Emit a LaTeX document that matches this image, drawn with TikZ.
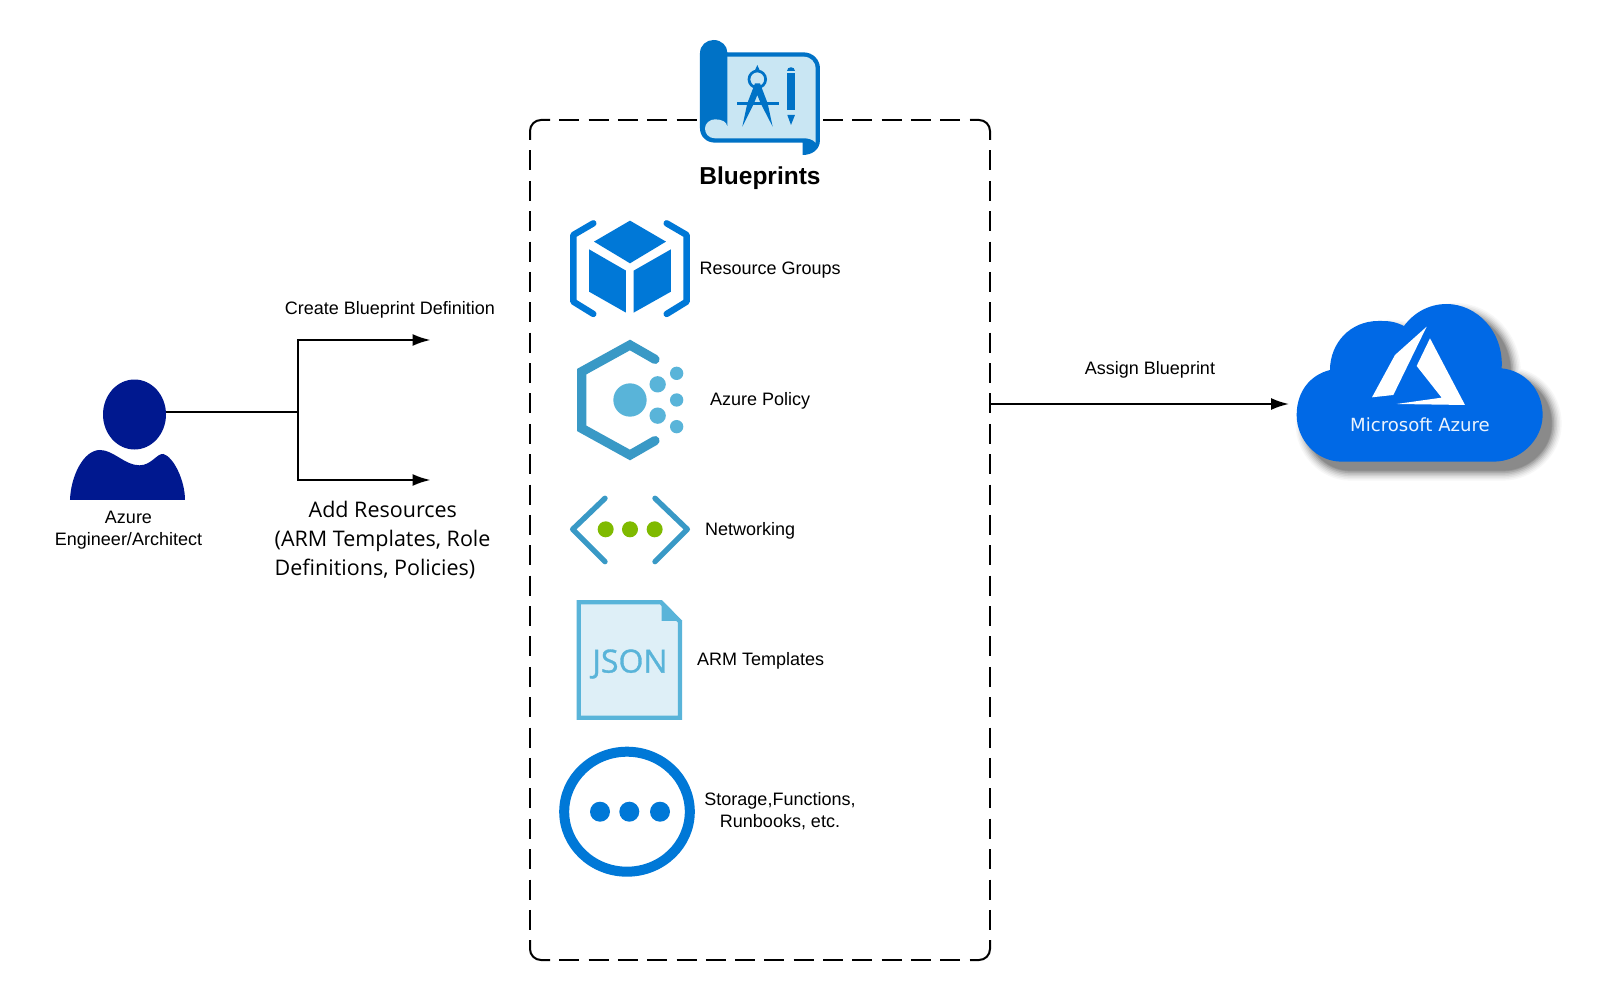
\documentclass[tikz,border=0pt]{standalone}
\usepackage{fontspec}
\setmainfont{Liberation Sans}
\newfontfamily\opensans{Open Sans}
\newfontfamily\jsonfont[FakeBold=1.0]{Open Sans}
\newfontfamily\dejavu{DejaVu Sans}
\usetikzlibrary{arrows.meta,shapes.geometric}
\definecolor{bpblue}{HTML}{0072C6}
\definecolor{bplight}{HTML}{C9E6F3}
\definecolor{azblue}{HTML}{0078D7}
\definecolor{polblue}{HTML}{3999C6}
\definecolor{skyblue}{HTML}{59B4D9}
\definecolor{jsonfill}{HTML}{DEEFF7}
\definecolor{netgreen}{HTML}{7FBA00}
\definecolor{navy}{HTML}{00188F}
\definecolor{cloudblue}{HTML}{0069E6}
\tikzset{
  lbl/.style={inner sep=0pt,font=\fontsize{18}{21.5}\selectfont,text=black},
  conn/.style={line width=2pt,draw=black},
  arr/.style={conn,-{Latex[length=18pt,width=12pt]}},
  zoomed/.style={x=0.3333pt,y=-0.3333pt},
  framecorner/.style={line width=2pt,draw=black,rounded corners=11pt},
  framehoriz/.style={line width=2pt,draw=black,dash pattern=on 20pt off 9.3pt,dash phase=20pt},
  framevert/.style={line width=2pt,draw=black,dash pattern=on 20pt off 10.38pt,dash phase=20pt},
}
\newcommand{\cloudshape}{(150,270) .. controls (90,285) and (50,335) .. (50,405)
  .. controls (50,480) and (110,545) .. (185,545) -- (640,545)
  .. controls (720,545) and (788,480) .. (788,405)
  .. controls (788,330) and (735,272) .. (665,265)
  .. controls (672,155) and (590,72) .. (500,72)
  .. controls (445,72) and (400,100) .. (372,138)
  .. controls (340,122) and (320,123) .. (295,123)
  .. controls (210,123) and (150,190) .. (150,270) -- cycle}
\begin{document}
\begin{tikzpicture}[x=1pt,y=-1pt]
\useasboundingbox (0,0) rectangle (1612,1000);
\fill[white] (0,0) rectangle (1612,1000);

% dashed container
\node[inner sep=0pt,minimum width=460pt,minimum height=840pt] (box) at (760,540) {};
\draw[framecorner] (530,140) -- (530,120) -- (550,120);
\draw[framecorner] (970,120) -- (990,120) -- (990,140);
\draw[framecorner] (990,940) -- (990,960) -- (970,960);
\draw[framecorner] (550,960) -- (530,960) -- (530,940);
\draw[framehoriz] (550,120) -- (970,120);
\draw[framehoriz] (550,960) -- (970,960);
\draw[framevert] (530,140) -- (530,940);
\draw[framevert] (990,140) -- (990,940);
\fill[white] (697,114) rectangle (823,126);

% person
\node[ellipse,fill=navy,inner sep=0pt,minimum width=63pt,minimum height=70pt] (head) at (134.5,414.5) {};
\begin{scope}[shift={(40,280)},zoomed]
  \fill[navy] (90,660) .. controls (92,590) and (130,510) .. (180,510)
    .. controls (220,510) and (255,556) .. (298,556)
    .. controls (335,556) and (350,520) .. (370,522)
    .. controls (400,530) and (435,600) .. (435,660) -- cycle;
\end{scope}
\node[lbl,align=center] (person) at (128.5,530) {Azure\\Engineer/Architect};

% left connectors
\coordinate (junction) at (298,412);
\coordinate (createend) at (430.5,340);
\coordinate (addend) at (430.5,480);
\draw[conn] (head.east |- junction) -- (junction);
\draw[arr] (junction) |- (createend);
\draw[arr] (junction) |- (addend);
\node[lbl] (create) at (390,309.5) {Create Blueprint Definition};
\node[inner sep=0pt,anchor=north west,align=left,font=\opensans\fontsize{21.5}{29}\selectfont] (add) at (274.5,501)
  {\hspace*{34pt}Add Resources\\(ARM Templates, Role\\Definitions, Policies)};

% blueprint icon
\begin{scope}[shift={(540,20)},zoomed]
  \fill[bpblue] (480,100) .. controls (480,75) and (500,60) .. (521,60)
    .. controls (545,60) and (562,78) .. (562,97) -- (790,97)
    .. controls (820,97) and (840,120) .. (840,145) -- (840,360)
    .. controls (840,390) and (815,405) .. (788,405) -- (788,368) -- (525,368)
    .. controls (500,368) and (480,350) .. (480,325) -- cycle;
  \fill[bplight] (562,110) -- (790,110) .. controls (812,110) and (827,125) .. (827,147)
    -- (827,368) .. controls (815,355) and (800,355) .. (788,355) -- (525,355)
    .. controls (505,355) and (495,340) .. (495,325)
    .. controls (495,310) and (510,298) .. (525,298)
    .. controls (545,298) and (562,305) .. (562,322) -- cycle;
  \draw[bpblue,line width=2.7pt] (652,178) circle (25);
  \fill[bpblue] (643,155) -- (652,135) -- (661,155) -- cycle;
  \fill[bpblue] (645,190) -- (660,190) -- (683,250) -- (698,320) -- (662,250) -- (652,225)
    -- (642,250) -- (607,320) -- (622,250) -- cycle;
  \fill[bpblue] (590,246) rectangle (717,254);
  \fill[bpblue] (742,153) .. controls (742,138) and (765,138) .. (765,153) -- cycle;
  \fill[bpblue] (742,160) rectangle (765,270);
  \fill[bpblue] (742,285) -- (765,285) -- (753,315) -- cycle;
\end{scope}
\node[inner sep=0pt,font=\bfseries\fontsize{24.5}{28}\selectfont] (title) at (760,178) {Blueprints};

% resource groups
\begin{scope}[shift={(540,20)},zoomed]
  \draw[azblue,line width=6.4pt,line cap=round,line join=round] (160,610) -- (100,645) -- (100,845) -- (160,882);
  \draw[azblue,line width=6.4pt,line cap=round,line join=round] (380,610) -- (440,645) -- (440,845) -- (380,882);
  \fill[azblue] (270,602) -- (378,665) -- (270,730) -- (162,665) -- cycle;
  \fill[azblue] (147,688) -- (258,752) -- (258,878) -- (147,815) -- cycle;
  \fill[azblue] (393,688) -- (281,752) -- (281,878) -- (393,815) -- cycle;
\end{scope}
\node[lbl,anchor=west] (rg) at (699.5,270) {Resource Groups};

% policy
\begin{scope}[shift={(550,330)},zoomed]
  \draw[polblue,line width=9.3pt,line cap=round,miter limit=4] (315,88) -- (240,45) -- (95,125) -- (95,295) -- (240,375) -- (315,332);
  \fill[skyblue] (240,210) circle (50);
  \fill[skyblue] (323,163) circle (24.5);
  \fill[skyblue] (323,257) circle (24.5);
  \fill[skyblue] (380,130) circle (20);
  \fill[skyblue] (380,210) circle (20);
  \fill[skyblue] (380,290) circle (20);
\end{scope}
\node[lbl,anchor=west] (policy) at (710,401) {Azure Policy};

% networking
\begin{scope}[shift={(550,330)},zoomed]
  \draw[polblue,line width=5.4pt,line cap=round,line join=round] (165,505) -- (68,598) -- (165,695);
  \draw[polblue,line width=5.4pt,line cap=round,line join=round] (315,505) -- (412,598) -- (315,695);
  \fill[netgreen] (167,598) circle (24);
  \fill[netgreen] (240,598) circle (24);
  \fill[netgreen] (314,598) circle (24);
\end{scope}
\node[lbl,anchor=west] (net) at (705,531) {Networking};

% json
\begin{scope}[shift={(550,590)},zoomed]
  \draw[skyblue,line width=4.3pt,fill=jsonfill,miter limit=4] (86,37) -- (333,37) -- (390,95) -- (390,383) -- (86,383) -- cycle;
  \fill[skyblue] (335,30) -- (397,93) -- (335,93) -- cycle;
\end{scope}
\node[inner sep=0pt,text=skyblue,font=\jsonfont\fontsize{32}{36}\selectfont] (json) at (630,664) {JSON};
\node[lbl,anchor=west] (arm) at (697,661) {ARM Templates};

% more
\draw[azblue,line width=10pt] (627,811.7) ellipse (62.8pt and 60pt);
\fill[azblue] (600,811.7) circle (10pt);
\fill[azblue] (629.3,811.7) circle (10pt);
\fill[azblue] (660,811.7) circle (10pt);
\node[lbl,align=center] (more) at (780,811) {Storage,Functions,\\Runbooks, etc.};

% cloud
\begin{scope}[shift={(1280,280)},zoomed]
  \begin{scope}[shift={(27,27)}]
    \foreach \w/\c in {20/3,17/7,14/12,11/18,8/25,5/33,2/40,0.1/46}
      \draw[draw=black!\c!white,fill=black!\c!white,line width=\w pt,line join=round] \cloudshape;
  \end{scope}
  \fill[cloudblue] \cloudshape;
  \fill[white] (440,140) -- (345,225) -- (276,352) -- (340,345) -- cycle;
  \fill[white] (450,175) -- (410,258) -- (485,353) -- (350,372) -- (555,375) -- cycle;
\end{scope}
\node[inner sep=0pt,text=white!92!cloudblue,font=\dejavu\fontsize{18.1}{20}\selectfont] (azure) at (1420,424.5) {Microsoft Azure};
\coordinate (cloudin) at (1289,404);
\draw[arr] (box.east |- cloudin) -- (cloudin);
\node[lbl] (assign) at (1150,369.5) {Assign Blueprint};
\end{tikzpicture}
\end{document}
